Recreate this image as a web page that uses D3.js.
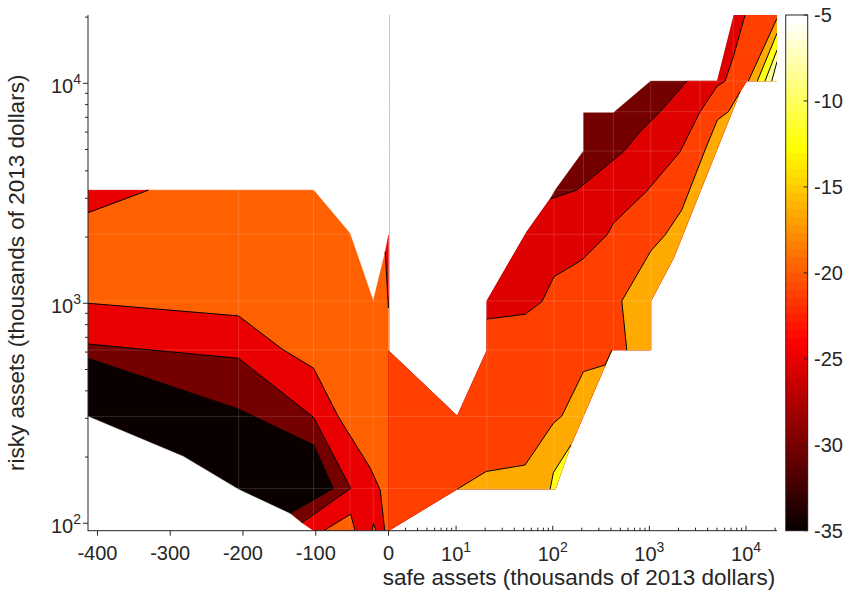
<!DOCTYPE html>
<html>
<head>
<meta charset="utf-8">
<script src="https://cdn.jsdelivr.net/npm/d3@7"></script>
<style>
  body { margin: 0; background: #fff; }
  text { font-family: "Liberation Sans", Arial, sans-serif; fill: #262626; }
</style>
</head>
<body>
<div id="chart"></div>
<script>
"use strict";

const width = 843,
      height = 601;

// axis ticks
const xTicksLinear = [-400, -300, -200, -100, 0];
const xTicksLog = [10, 100, 1000, 10000];
const yTicks = [100, 1000, 10000];
const colorTicks = [-5, -10, -15, -20, -25, -30, -35];

// contour levels of each filled band (colour comes from the hot map)
const leftLevels = { black: -35, darkRed: -30, red: -25, orange: -20 };
const rightLevels = { darkRed: -30, red: -25.5, orange: -21, amber: -16.5, yellow: -12.5, pale: -8.5, white: -5.5 };

// left panel (negative safe assets), vertices as [safe, risky]
const leftBlack = [[-413, 562], [-206, 330], [-103, 227], [-76, 144], [-135, 111], [-206, 143], [-282, 202], [-413, 307]];
const leftDarkRed = [[-413, 653], [-206, 562], [-103, 303], [-52, 144], [-119, 100.6], [-135, 111], [-76, 144], [-103, 227], [-206, 330], [-413, 562]];
const leftRed = [[-413, 1000], [-206, 876], [-146, 618], [-103, 507], [-69, 305], [-25, 178], [-11.4, 141.5], [-5.2, 92.5], [-103, 92.5], [-119, 100.6], [-52, 144], [-103, 303], [-206, 562], [-413, 653]];
const leftOrange = [[-413, 2580], [-330, 3270], [-103, 3270], [-53, 2080], [-21, 1027], [-4.5, 1716], [0, 952], [0, 92.5], [-5.2, 92.5], [-11.4, 141.5], [-25, 178], [-69, 305], [-103, 507], [-146, 618], [-206, 876], [-413, 1000]];
const leftRedTop = [[-413, 3270], [-330, 3270], [-413, 2580]];
const leftRedSliver = [[-4.5, 1716], [0, 2044], [0, 952]];
const leftOrangeFoot = [[-89, 92.5], [-52, 110], [-46, 92.5]];
const leftOrangeSpike = [[-22, 92.5], [-21, 100], [-17, 92.5]];

const leftLines = [
  [[-413, 2580], [-330, 3270]],
  [[-4.5, 1716], [0, 952]],
  [[-413, 1000], [-206, 876], [-146, 618], [-103, 507], [-69, 305], [-25, 178], [-11.4, 141.5], [-5.2, 92.5]],
  [[-413, 653], [-206, 562], [-103, 303], [-52, 144], [-119, 100.6]],
  [[-413, 562], [-206, 330], [-103, 227], [-76, 144], [-135, 111]],
  [[-89, 92.5], [-52, 110], [-46, 92.5]],
  [[-22, 92.5], [-21, 100], [-17, 92.5]]
];

// right panel (positive safe assets, log axis): outline pieces
const rightEdgeLow = [[20900, 20440], [20900, 10240], [10170, 10240], [8670, 9160], [1771, 1602], [1034, 1024], [1034, 613], [409, 613], [154, 227], [106, 143], [10.3, 143], [2, 92.5], [2, 609], [10.3, 307], [20.8, 609]];
const rightEdgeHigh = [[20.8, 1024], [54, 2116], [94, 2980]];
const rightEdgeNotch = [[106, 3273], [208, 4925], [208, 7350], [424, 7350], [1034, 10240]];
const rightEdgeTop = [[5049, 10240], [7515, 20440]];

// right panel contour lines
const lineDarkRed = [[94, 2980], [177.5, 3273], [538, 4888], [801, 6030], [1290, 7430], [2437, 10240]];
const lineRed = [[20.8, 848], [51.8, 891], [77.2, 1017], [103, 1321], [200, 1573], [363, 2044], [424, 2310], [940, 3239], [2078, 4888], [3345, 7430], [4977, 9650], [6065, 10240], [7391, 13210], [9765, 20440]];
const lineAmberLow = [[10.3, 143], [20.5, 172], [51.8, 184], [101.7, 285], [124, 307], [208, 489], [348, 524], [409, 613]];
const lineAmberMid = [[584, 613], [518, 1024], [1034, 1729], [1453, 2044], [2163, 2656], [3767, 4975], [5049, 6810], [6561, 7430], [8670, 9160]];
const lineAmberTop = [[10560, 10240], [20900, 19750]];
const lineYellowLow = [[94, 143], [101.7, 170], [154, 227]];
const lineYellowTop = [[13090, 10240], [20900, 16880]];
const linePale = [[15720, 10240], [20900, 14170]];
const lineWhite = [[18440, 10240], [20900, 12540]];

// faint seams of the data mesh
const meshSafe = [-206, -103, -53, -21, 20.8, 103, 208, 424, 1034, 3345, 7390];
const meshRisky = [144, 306, 613, 1024, 2059, 3273, 4925, 7430, 10240];

const plot = { left: 88, right: 777, top: 15, bottom: 530.7, zero: 388.5 };

const xNeg = d3.scaleLinear().domain([-413, 0]).range([plot.left, plot.zero]);
const xPos = d3.scaleLog().domain([2, 20900]).range([plot.zero, plot.right]);
const y = d3.scaleLog().domain([92.5, 20440]).range([plot.bottom, plot.top]);

function sx(v) {
  return v <= 0 ? xNeg(v) : xPos(v);
}

// matlab "hot" colormap, 64 steps
const hot = d3.range(1, 65).map(function(k) {
  const r = Math.min(1, k / 24),
        g = Math.max(0, Math.min(1, (k - 24) / 24)),
        b = Math.max(0, (k - 48) / 16);
  return d3.rgb(r * 255, g * 255, b * 255).formatHex();
});
const color = d3.scaleQuantize().domain([-35, -5]).range(hot);

const bands = [
  { level: leftLevels.orange, pts: leftOrange },
  { level: leftLevels.red, pts: leftRed },
  { level: leftLevels.darkRed, pts: leftDarkRed },
  { level: leftLevels.black, pts: leftBlack },
  { level: leftLevels.red, pts: leftRedTop },
  { level: leftLevels.red, pts: leftRedSliver },
  { level: leftLevels.orange, pts: leftOrangeFoot },
  { level: leftLevels.orange, pts: leftOrangeSpike },
  { level: rightLevels.darkRed, pts: rightEdgeLow.concat(rightEdgeHigh, rightEdgeNotch, rightEdgeTop) },
  { level: rightLevels.red, pts: lineDarkRed.concat(rightEdgeTop, rightEdgeLow, rightEdgeHigh) },
  { level: rightLevels.orange, pts: lineRed.concat(rightEdgeLow) },
  { level: rightLevels.amber, pts: lineAmberLow.concat([[154, 227], [106, 143]]) },
  { level: rightLevels.amber, pts: lineAmberMid.concat([[1771, 1602], [1034, 1024], [1034, 613]]) },
  { level: rightLevels.amber, pts: lineAmberTop.concat([[20900, 10240]]) },
  { level: rightLevels.yellow, pts: lineYellowLow.concat([[106, 143]]) },
  { level: rightLevels.yellow, pts: lineYellowTop.concat([[20900, 10240]]) },
  { level: rightLevels.pale, pts: linePale.concat([[20900, 10240]]) },
  { level: rightLevels.white, pts: lineWhite.concat([[20900, 10240]]) }
];

const contourLines = leftLines.concat([lineDarkRed, lineRed, lineAmberLow, lineAmberMid, lineAmberTop, lineYellowLow, lineYellowTop, linePale, lineWhite]);

const line = d3.line()
  .x(function(d) { return sx(d[0]); })
  .y(function(d) { return y(d[1]); });

const svg = d3.select("#chart")
  .append("svg")
  .attr("width", width)
  .attr("height", height);

svg.append("clipPath")
  .attr("id", "plot-clip")
  .append("rect")
  .attr("x", plot.left)
  .attr("y", plot.top)
  .attr("width", plot.right - plot.left)
  .attr("height", plot.bottom - plot.top);

const g = svg.append("g")
  .attr("clip-path", "url(#plot-clip)");

// divider between the two panels
g.append("line")
  .attr("x1", sx(0) + 1).attr("x2", sx(0) + 1)
  .attr("y1", plot.top).attr("y2", plot.bottom)
  .attr("stroke", "#c4c4c4")
  .attr("stroke-width", 1);

g.selectAll("path.band")
  .data(bands)
  .join("path")
    .attr("class", "band")
    .attr("d", function(d) { return line(d.pts) + "Z"; })
    .attr("fill", function(d) { return color(d.level); })
    .attr("stroke", function(d) { return color(d.level); })
    .attr("stroke-width", 0.4);

g.selectAll("line.mesh-x")
  .data(meshSafe)
  .join("line")
    .attr("class", "mesh-x")
    .attr("x1", function(d) { return sx(d); })
    .attr("x2", function(d) { return sx(d); })
    .attr("y1", plot.top)
    .attr("y2", plot.bottom)
    .attr("stroke", "#fff")
    .attr("stroke-opacity", 0.15);

g.selectAll("line.mesh-y")
  .data(meshRisky)
  .join("line")
    .attr("class", "mesh-y")
    .attr("x1", plot.left)
    .attr("x2", plot.right)
    .attr("y1", function(d) { return y(d); })
    .attr("y2", function(d) { return y(d); })
    .attr("stroke", "#fff")
    .attr("stroke-opacity", 0.15);

g.selectAll("path.contour")
  .data(contourLines)
  .join("path")
    .attr("class", "contour")
    .attr("d", line)
    .attr("fill", "none")
    .attr("stroke", "#000")
    .attr("stroke-width", 1)
    .attr("stroke-linejoin", "round");

// axes
const axisColor = "#262626";
const axes = svg.append("g")
  .attr("stroke", axisColor)
  .attr("stroke-width", 1);

axes.append("line")
  .attr("x1", plot.left).attr("x2", plot.left)
  .attr("y1", plot.top).attr("y2", plot.bottom + 0.5);
axes.append("line")
  .attr("x1", plot.left).attr("x2", plot.right)
  .attr("y1", plot.bottom).attr("y2", plot.bottom);

axes.selectAll("line.xt-lin")
  .data(xTicksLinear)
  .join("line")
    .attr("class", "xt-lin")
    .attr("x1", function(d) { return xNeg(d); })
    .attr("x2", function(d) { return xNeg(d); })
    .attr("y1", plot.bottom)
    .attr("y2", plot.bottom + 5);

const xMinor = xPos.ticks().filter(function(d) { return d >= 3 && xTicksLog.indexOf(d) < 0; });
axes.selectAll("line.xt-log")
  .data(xTicksLog.concat(xMinor))
  .join("line")
    .attr("class", "xt-log")
    .attr("x1", function(d) { return xPos(d); })
    .attr("x2", function(d) { return xPos(d); })
    .attr("y1", plot.bottom)
    .attr("y2", function(d) { return plot.bottom - (xTicksLog.indexOf(d) >= 0 ? 5 : 3); });

const yMinor = y.ticks().filter(function(d) { return yTicks.indexOf(d) < 0; });
axes.selectAll("line.yt")
  .data(yTicks.concat(yMinor))
  .join("line")
    .attr("class", "yt")
    .attr("x1", plot.left)
    .attr("x2", function(d) { return plot.left - (yTicks.indexOf(d) >= 0 ? 5 : 3); })
    .attr("y1", function(d) { return y(d); })
    .attr("y2", function(d) { return y(d); });

svg.selectAll("text.xl-lin")
  .data(xTicksLinear)
  .join("text")
    .attr("class", "xl-lin")
    .attr("x", function(d) { return xNeg(d); })
    .attr("y", 560)
    .attr("text-anchor", "middle")
    .attr("font-size", 20)
    .text(function(d) { return d; });

function powerLabel(sel) {
  sel.append("tspan").text("10");
  sel.append("tspan")
    .attr("font-size", 14)
    .attr("dy", -9)
    .text(function(d) { return Math.round(Math.log10(d)); });
}

svg.selectAll("text.xl-log")
  .data(xTicksLog)
  .join("text")
    .attr("class", "xl-log")
    .attr("x", function(d) { return xPos(d); })
    .attr("y", 561)
    .attr("text-anchor", "middle")
    .attr("font-size", 20)
    .call(powerLabel);

svg.selectAll("text.yl")
  .data(yTicks)
  .join("text")
    .attr("class", "yl")
    .attr("x", 81)
    .attr("y", function(d) { return y(d) + 10; })
    .attr("text-anchor", "end")
    .attr("font-size", 20)
    .call(powerLabel);

svg.append("text")
  .attr("x", 579)
  .attr("y", 585)
  .attr("text-anchor", "middle")
  .attr("font-size", 22.5)
  .text("safe assets (thousands of 2013 dollars)");

svg.append("text")
  .attr("transform", "translate(24," + ((plot.top + plot.bottom) / 2) + ") rotate(-90)")
  .attr("text-anchor", "middle")
  .attr("font-size", 22.5)
  .text("risky assets (thousands of 2013 dollars)");

// colorbar
const cb = { x: 785.7, w: 22 };
const cbY = d3.scaleLinear().domain([-35, -5]).range([plot.bottom, plot.top]);

svg.append("g")
  .attr("shape-rendering", "crispEdges")
  .selectAll("rect")
  .data(hot)
  .join("rect")
    .attr("x", cb.x)
    .attr("width", cb.w)
    .attr("y", function(d) { return cbY(color.invertExtent(d)[1]); })
    .attr("height", function(d) {
      const e = color.invertExtent(d);
      return cbY(e[0]) - cbY(e[1]) + 0.6;
    })
    .attr("fill", function(d) { return d; });

svg.append("rect")
  .attr("x", cb.x)
  .attr("y", plot.top)
  .attr("width", cb.w)
  .attr("height", plot.bottom - plot.top)
  .attr("fill", "none")
  .attr("stroke", axisColor);

svg.selectAll("line.ct")
  .data(colorTicks)
  .join("line")
    .attr("class", "ct")
    .attr("x1", cb.x + cb.w - 4)
    .attr("x2", cb.x + cb.w)
    .attr("y1", function(d) { return cbY(d); })
    .attr("y2", function(d) { return cbY(d); })
    .attr("stroke", axisColor);

svg.selectAll("text.cl")
  .data(colorTicks)
  .join("text")
    .attr("class", "cl")
    .attr("x", 814)
    .attr("y", function(d) { return cbY(d) + 7; })
    .attr("font-size", 20)
    .text(function(d) { return d; });
</script>
</body>
</html>
